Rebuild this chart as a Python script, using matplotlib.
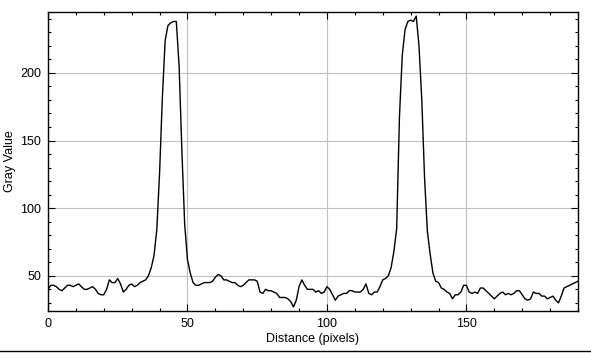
import numpy as np
import matplotlib.pyplot as plt
from matplotlib.lines import Line2D

# ── Profile data (gray value per pixel along the line) ─────
distance = np.arange(0, 191)
gray_value = [
    40, 43, 43, 42, 40, 39, 41, 43, 43, 42,      # 0-9
    43, 44, 42, 40, 40, 41, 42, 40, 37, 36,      # 10-19
    36, 40, 47, 45, 45, 48, 44, 38, 40, 43,      # 20-29
    44, 42, 43, 45, 46, 47, 50, 56, 65, 84,      # 30-39
    126, 182, 224, 235, 237, 238, 238, 205, 142, 88,  # 40-49
    62, 52, 45, 43, 43, 44, 45, 45, 45, 46,      # 50-59
    49, 51, 50, 47, 47, 46, 45, 45, 43, 42,      # 60-69
    43, 45, 47, 47, 47, 46, 38, 37, 40, 39,      # 70-79
    39, 38, 37, 34, 34, 34, 33, 31, 27, 32,      # 80-89
    42, 47, 43, 40, 40, 40, 38, 39, 37, 38,      # 90-99
    42, 40, 36, 32, 35, 36, 37, 37, 39, 39,      # 100-109
    38, 38, 38, 40, 44, 37, 36, 38, 38, 42,      # 110-119
    47, 48, 50, 56, 68, 85, 168, 213, 232, 238,  # 120-129
    239, 238, 242, 220, 180, 122, 83, 66, 52, 46,  # 130-139
    45, 41, 40, 38, 37, 33, 36, 36, 38, 43,      # 140-149
    43, 38, 37, 38, 37, 41, 41, 39, 37, 35,      # 150-159
    33, 35, 37, 38, 36, 37, 36, 37, 39, 39,      # 160-169
    36, 33, 32, 33, 38, 37, 37, 35, 35, 33,      # 170-179
    34, 35, 32, 30, 35, 41, 42, 43, 44, 45,      # 180-189
    46,                                          # 190
]

x_ticks = [0, 50, 100, 150]
y_ticks = [50, 100, 150, 200]

# ── Plot ─────────────────────────────────────────────────────
plt.rcParams['font.family'] = ['Liberation Sans', 'DejaVu Sans']
W, H = 591, 353
fig = plt.figure(figsize=(W / 100, H / 100), dpi=100)
ax = fig.add_axes([48 / W, (H - 311) / H, (578 - 48) / W, (311 - 12) / H])

ax.plot(distance, gray_value, color='black', linewidth=1.0)

ax.set_xlim(0, 190)
ax.set_ylim(24, 245)
ax.set_xticks(x_ticks)
ax.set_yticks(y_ticks)
ax.set_xticks(np.arange(0, 191, 10), minor=True)
ax.set_yticks(np.arange(30, 245, 10), minor=True)
ax.grid(True, which='major', color='#c0c0c0', linewidth=0.8)
ax.set_axisbelow(True)

ax.tick_params(which='both', direction='in', top=True, right=True,
               labelsize=9, width=0.8, colors='black')
ax.tick_params(which='major', length=5, pad=5)
ax.tick_params(which='minor', length=2.5)
for s in ax.spines.values():
    s.set_linewidth(1.0)

ax.set_xlabel('Distance (pixels)', fontsize=9)
ax.set_ylabel('Gray Value', fontsize=9)
ax.xaxis.set_label_coords(0.5, -0.094)
ax.yaxis.set_label_coords(-0.072, 0.5)
ax.xaxis.label.set_va('center')
ax.yaxis.label.set_va('center')

# window border line at the bottom
fig.add_artist(Line2D([0, 1], [(H - 351) / H] * 2, color='black',
                      linewidth=1.0, transform=fig.transFigure))

fig.savefig('out.png', dpi=100)
